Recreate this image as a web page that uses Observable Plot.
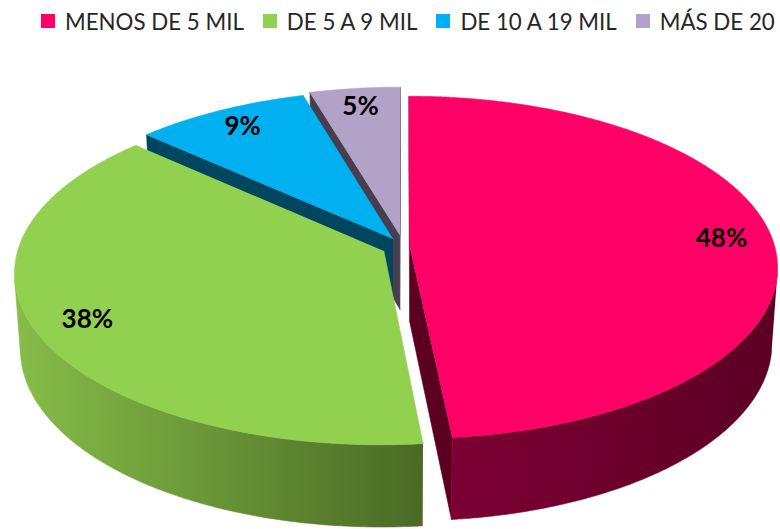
<!DOCTYPE html>
<html><head><meta charset="utf-8">
<script src="https://cdn.jsdelivr.net/npm/d3@7"></script>
<script src="https://cdn.jsdelivr.net/npm/@observablehq/plot@0.6"></script>
<style>
html,body{margin:0;padding:0;background:#fff;overflow:hidden;width:780px;height:529px}
#legend{height:42px;display:flex;align-items:center;white-space:nowrap;padding-left:41px;font-family:Lato,"Open Sans",sans-serif;font-size:22.3px;color:#262626;overflow:hidden;width:739px}
.item{display:flex;align-items:center;margin-right:19px;flex:none}
.sw{width:14px;height:14px;margin-right:10px;flex:none}
#chart svg{display:block}
</style></head><body>
<div id="legend"></div>
<div id="chart"></div>
<script>
// ---- data ----
const categories = ["MENOS DE 5 MIL", "DE 5 A 9 MIL", "DE 10 A 19 MIL", "MÁS DE 20"];
const shares = [48.4, 38.4, 8.7, 4.5];
const labels = ["48%", "38%", "9%", "5%"];
const topColors = ["#FF0066", "#92D050", "#00B0F0", "#B3A2C7"];
const faceColors = ["#5c0022", "#4b6b27", "#00465f", "#473f50"];
const wallStops = [["#7c0032", "#5c0024"], ["#86bd48", "#4a6a25"], ["#0089bb", "#005a7a"], ["#8a7d9c", "#5a5066"]];
const explode = [0.017, 0.06, 0.055, 0.07];

// ---- legend ----
const legend = d3.select("#legend");
categories.forEach((c, i) => {
  const it = legend.append("div").attr("class", "item");
  it.append("div").attr("class", "sw").style("background", topColors[i]);
  it.append("span").text(c);
});

// ---- layout ----
const W = 780, H = 487;
const cx = 403, cy = 204, k = 365;
const sa = 0.462, ca = Math.sqrt(1 - sa * sa);
const D = 7.2, th = 0.235;
function proj(X, Y, Z) {
  const w = Z * ca + Y * sa;
  const f = D / (D - w);
  return [cx + k * X * f, cy + k * (Z * sa - Y * ca) * f];
}
const total = d3.sum(shares);
let acc = 0;
const slices = shares.map((v, i) => {
  const a0 = acc / total * 2 * Math.PI;
  acc += v;
  const a1 = acc / total * 2 * Math.PI;
  const mid = (a0 + a1) / 2;
  const ox = explode[i] * Math.sin(mid), oz = -explode[i] * Math.cos(mid);
  return {i, a0, a1, mid, ox, oz};
});
const camZ = D * ca;
const polys = [];
const toPts = (arr) => arr.map(([x, y]) => ({x, y}));
function arc(s, t0, t1, Y) {
  const n = Math.max(2, Math.ceil(Math.abs(t1 - t0) / (Math.PI / 360)));
  return d3.range(n + 1).map(j => {
    const t = t0 + (t1 - t0) * j / n;
    return proj(s.ox + Math.sin(t), Y, s.oz - Math.cos(t));
  });
}
// painter's order: back to front by depth of slice
const order = slices.slice().sort((a, b) =>
  (a.oz - 0.5 * Math.cos(a.mid)) - (b.oz - 0.5 * Math.cos(b.mid)));
order.forEach(s => {
  const i = s.i;
  const ctop = proj(s.ox, 0, s.oz), cbot = proj(s.ox, -th, s.oz);
  // radial faces
  [[s.a0, -1], [s.a1, 1]].forEach(([a, sg]) => {
    const nx = sg * Math.cos(a), nz = sg * Math.sin(a);
    if (nx * (0 - s.ox) + nz * (camZ - s.oz) > 0) {
      const rt = proj(s.ox + Math.sin(a), 0, s.oz - Math.cos(a));
      const rb = proj(s.ox + Math.sin(a), -th, s.oz - Math.cos(a));
      polys.push({pts: toPts([ctop, rt, rb, cbot]), fill: faceColors[i]});
    }
  });
  // outer wall: visible ranges
  const N = 720;
  let start = null;
  const vis = t => (-Math.cos(t) * camZ - Math.sin(t) * s.ox + Math.cos(t) * s.oz - 1) > 0;
  const ranges = [];
  for (let j = 0; j <= N; j++) {
    const t = s.a0 + (s.a1 - s.a0) * j / N;
    if (vis(t)) { if (start === null) start = t; }
    else if (start !== null) { ranges.push([start, t]); start = null; }
  }
  if (start !== null) ranges.push([start, s.a1]);
  ranges.forEach(([t0, t1]) => {
    const top = arc(s, t0, t1, 0), bot = arc(s, t1, t0, -th);
    polys.push({pts: toPts(top.concat(bot)), fill: `url(#wall${i})`});
  });
  // top face
  polys.push({pts: toPts([ctop].concat(arc(s, s.a0, s.a1, 0))), fill: topColors[i]});
});
// labels
const lr = 0.86;
const labelData = slices.map(s => {
  const [x, y] = proj(s.ox + lr * Math.sin(s.mid), 0, s.oz - lr * Math.cos(s.mid));
  return {x, y, text: labels[s.i]};
});

const svg = Plot.plot({
  width: W, height: H, margin: 0,
  x: {domain: [0, W], range: [0, W], axis: null},
  y: {domain: [0, H], range: [0, H], axis: null},
  style: {background: "#fff"},
  marks: [
    ...polys.map(p => Plot.line(p.pts, {x: "x", y: "y", fill: p.fill, stroke: p.fill, strokeWidth: 0.6, curve: "linear"})),
    Plot.text(labelData, {x: "x", y: "y", text: "text", fontSize: 26, fontWeight: "bold", fontFamily: "Lato", fill: "#000"})
  ]
});
const defs = d3.create("svg:defs");
wallStops.forEach((st, i) => {
  const g = defs.append("linearGradient").attr("id", `wall${i}`).attr("x1", 0).attr("x2", 1).attr("y1", 0).attr("y2", 0);
  g.append("stop").attr("offset", 0).attr("stop-color", st[0]);
  g.append("stop").attr("offset", 1).attr("stop-color", st[1]);
});
svg.insertBefore(defs.node(), svg.firstChild);
document.getElementById("chart").appendChild(svg);
</script>
</body></html>
